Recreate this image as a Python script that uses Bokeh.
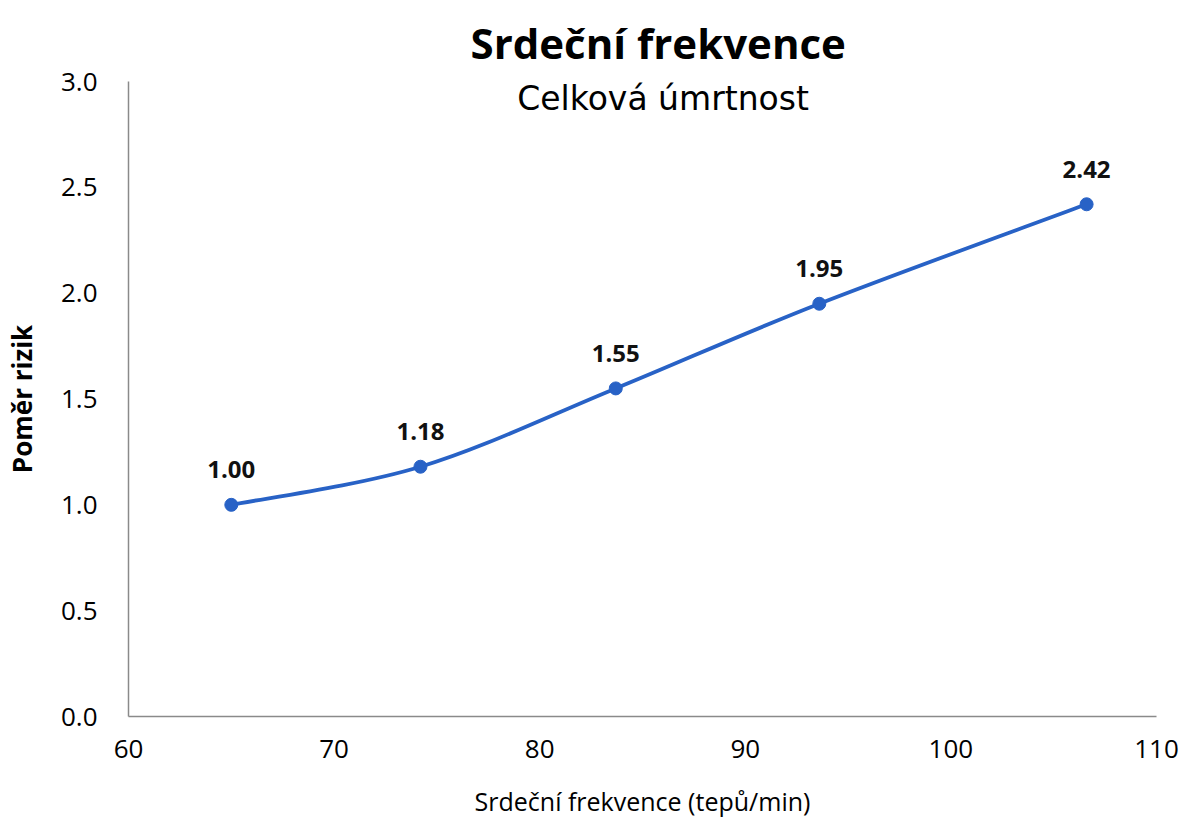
from bokeh.plotting import figure
from bokeh.models import Range1d, Label, LabelSet, ColumnDataSource, FixedTicker, Title
from bokeh.core.properties import value
from bokeh.embed import file_html
from bokeh.resources import INLINE

# ---- data ----
heart_rate = [65.0, 74.2, 83.7, 93.6, 106.6]
hazard_ratio = [1.00, 1.18, 1.55, 1.95, 2.42]
hr_labels = ["1.00", "1.18", "1.55", "1.95", "2.42"]
x_ticks = [60, 70, 80, 90, 100, 110]
y_ticks = [0.0, 0.5, 1.0, 1.5, 2.0, 2.5, 3.0]

title_text = "Srdeční frekvence"
subtitle_text = "Celková úmrtnost"
x_label = "Srdeční frekvence (tepů/min)"
y_label = "Poměr rizik"

LINE_COLOR = "#2862C6"
FONT = "Open Sans"

p = figure(width=1184, height=820, output_backend="svg", toolbar_location=None,
           x_range=Range1d(60, 110), y_range=Range1d(0, 3.0),
           min_border_left=126, min_border_right=30, min_border_top=81, min_border_bottom=104)
p.frame_width = 1028
p.frame_height = 635
p.outline_line_color = None
p.xgrid.visible = False
p.ygrid.visible = False
p.background_fill_color = "white"
p.border_fill_color = "white"

for ax in (p.xaxis[0], p.yaxis[0]):
    ax.axis_line_color = "#8a8a8a"
    ax.axis_line_width = 1.5
    ax.major_tick_line_color = None
    ax.minor_tick_line_color = None
    ax.major_label_text_font = FONT
    ax.major_label_text_font_size = "26px"
    ax.major_label_text_color = "black"
    ax.axis_label_text_font = FONT
    ax.axis_label_text_font_style = "normal"
    ax.axis_label_text_color = "black"

p.xaxis.ticker = FixedTicker(ticks=x_ticks)
p.yaxis.ticker = FixedTicker(ticks=y_ticks)
p.xaxis.major_label_overrides = {t: str(t) for t in x_ticks}
p.yaxis.major_label_overrides = {t: f"{t:.1f}" for t in y_ticks}
p.xaxis.major_label_standoff = 17
p.yaxis.major_label_standoff = 25
p.xaxis.axis_label = x_label
p.yaxis.axis_label = y_label
p.xaxis.axis_label_text_font_size = "25px"
p.yaxis.axis_label_text_font_size = "26px"
p.yaxis.axis_label_text_font_style = "bold"
p.xaxis.axis_label_standoff = 23
p.yaxis.axis_label_standoff = 18

title = Title(text=title_text, align="left", offset=342, standoff=22,
              text_font=FONT, text_font_size="42px", text_font_style="bold",
              text_color="black")
p.add_layout(title, "above")

# smoothed line (Catmull-Rom style bezier from data points)
n = len(heart_rate)
x0, y0, x1, y1, cx0, cy0, cx1, cy1 = [], [], [], [], [], [], [], []
for i in range(n - 1):
    xa, ya = heart_rate[i], hazard_ratio[i]
    xb, yb = heart_rate[i + 1], hazard_ratio[i + 1]
    xp, yp = (heart_rate[i - 1], hazard_ratio[i - 1]) if i > 0 else (xa, ya)
    xn, yn = (heart_rate[i + 2], hazard_ratio[i + 2]) if i + 2 < n else (xb, yb)
    x0.append(xa); y0.append(ya); x1.append(xb); y1.append(yb)
    cx0.append(xa + (xb - xp) / 6.0); cy0.append(ya + (yb - yp) / 6.0)
    cx1.append(xb - (xn - xa) / 6.0); cy1.append(yb - (yn - ya) / 6.0)
p.bezier(x0=x0, y0=y0, x1=x1, y1=y1, cx0=cx0, cy0=cy0, cx1=cx1, cy1=cy1,
         line_color=LINE_COLOR, line_width=3.8)

src = ColumnDataSource(dict(x=heart_rate, y=hazard_ratio, t=hr_labels))
p.scatter("x", "y", source=src, size=13, fill_color=LINE_COLOR, line_color=LINE_COLOR)

labels = LabelSet(x="x", y="y", text="t", source=src, text_align="center",
                  text_baseline="middle", y_offset=35, text_font=value(FONT),
                  text_font_size=value("24px"), text_font_style=value("bold"),
                  text_color=value("#111111"))
p.add_layout(labels)

p.add_layout(Label(x=86.0, y=2.92, text=subtitle_text, text_align="center",
                   text_baseline="middle", text_font="DejaVu Sans", text_font_size="33px",
                   text_color="black"))

open("out.html", "w").write(file_html(p, INLINE))
